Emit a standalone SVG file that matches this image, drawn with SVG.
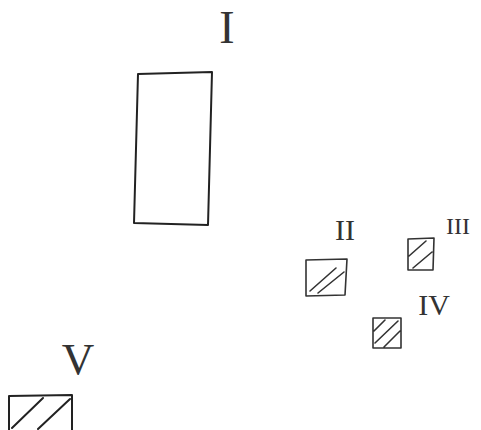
<svg xmlns="http://www.w3.org/2000/svg" width="481" height="430" viewBox="0 0 481 430">
<style>
.lbl{font-family:"Liberation Serif","DejaVu Serif",serif;fill:#333;text-anchor:middle}
.box{fill:none;stroke:#222;stroke-width:2;stroke-linejoin:round;stroke-linecap:round}
.sm{fill:none;stroke:#333;stroke-width:1.6;stroke-linejoin:round;stroke-linecap:round}
</style>
<rect width="481" height="430" fill="#fff"/>
<g id="node-I">
<path class="box" d="M138,74 L212,72 L208,225 L134,223 Z"/>
<text class="lbl" x="227" y="43" font-size="46">I</text>
</g>
<g id="node-II">
<path class="sm" d="M306,260 L347,259 L345,295 L306,296 Z M310,291 L336,268 M318,293 L344,272"/>
<text class="lbl" x="345" y="240" font-size="30">II</text>
</g>
<g id="node-III">
<path class="sm" d="M408,239 L434,238 L433,270 L408,270 Z M409,256 L426,241 M413,268 L432,252"/>
<text class="lbl" x="458" y="234" font-size="24">III</text>
</g>
<g id="node-IV">
<path class="sm" d="M373,318 L401,318 L401,348 L373,348 Z M374,331 L385,320 M375,343 L398,321 M384,347 L400,331"/>
<text class="lbl" x="434" y="315" font-size="30">IV</text>
</g>
<g id="node-V">
<path class="box" d="M9,396 L72,395 L72,430 M9,396 L9,430 M12,428 L43,398 M38,429 L70,399"/>
<text class="lbl" x="78" y="374" font-size="45">V</text>
</g>
<g id="connectors"></g>
</svg>
